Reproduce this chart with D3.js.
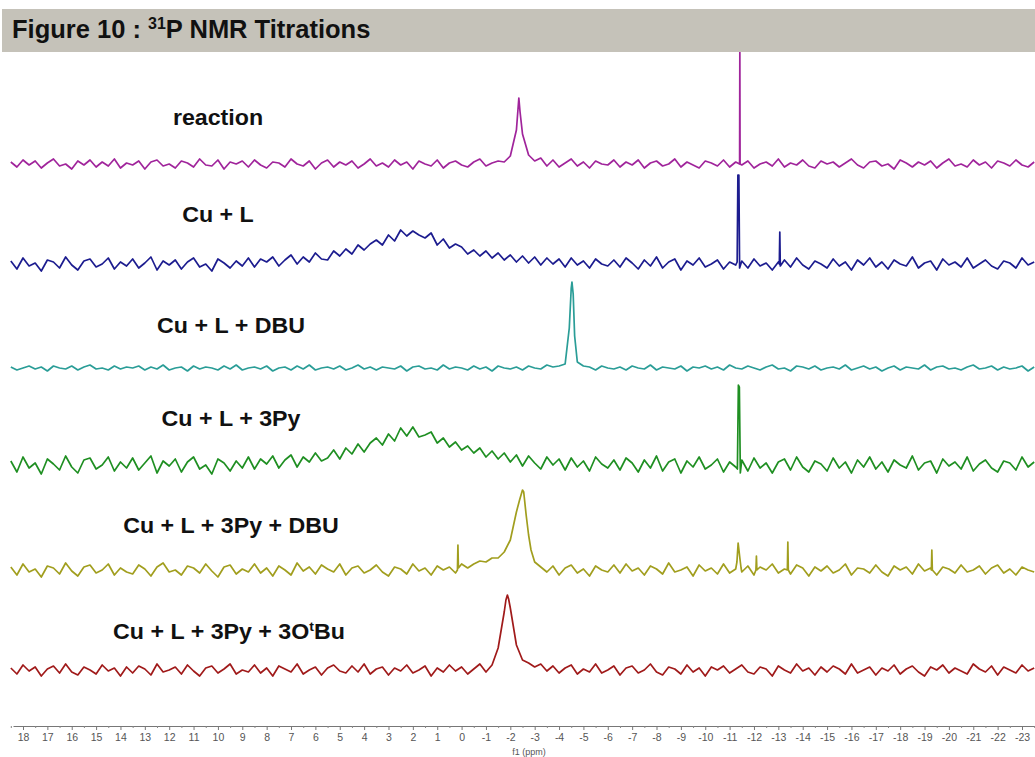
<!DOCTYPE html>
<html>
<head>
<meta charset="utf-8">
<script src="https://cdn.jsdelivr.net/npm/d3@7"></script>
<style>
  body { margin: 0; background: #fff; }
  svg { display: block; }
</style>
</head>
<body>
<div class="chart"></div>
<script>
var svgWidth = 1035;
var svgHeight = 757;

// spectra are sampled every 0.25 ppm starting at 18.5 ppm
var ppmStart = 18.5;
var ppmStep = 0.25;

var seriesNames = ["reaction", "Cu + L", "Cu + L + DBU", "Cu + L + 3Py", "Cu + L + 3Py + DBU", "Cu + L + 3Py + 3O{t}Bu"];

var reactionVals = [
  2,-3,4,-1,3,-4,1,5,-2,0,-5,3,-1,4,-3,2,-2,5,-4,1,
  -1,3,-5,2,4,-2,0,-4,3,1,-3,5,-1,-2,4,-5,2,0,3,-3,
  4,-1,-4,2,1,-3,5,0,-2,3,-5,1,4,-3,2,-1,3,-4,0,5,
  -2,1,-3,4,-1,2,-5,3,0,-2,4,-4,1,3,-1,-3,2,5,-2,1,
  3,2,8,34,30,9,3,6,-2,4,-3,1,5,-2,2,-4,3,0,-1,4,
  -3,2,-1,4,-4,1,3,-2,0,5,-3,2,-1,-4,3,1,-2,4,-3,2,
  -1,3,-4,0,2,-2,5,-3,1,-1,4,-2,-4,3,0,2,-3,1,5,-1,
  -4,2,3,-2,0,-5,4,1,-3,2,-1,3,-4,1,5,-2,0,-3,4,-1,
  2,-4,3,1,-2,4,-1,-3,2
];
var reactionPeaks = [[-2.3, 50], [-2.35, 66], [-2.4, 52], [-11.41, 0], [-11.42, 118], [-11.43, 0]];

var cuLVals = [
  3,-5,6,-2,1,-7,4,2,-4,7,-1,-6,3,5,-3,0,6,-5,2,-2,
  5,-4,1,7,-6,3,-1,4,-5,2,6,-3,0,-7,5,1,-4,3,-2,6,
  -3,5,2,7,-2,4,9,0,7,2,11,5,4,13,8,15,10,19,14,20,
  24,19,29,23,34,28,33,29,26,31,19,25,16,20,17,10,14,8,13,6,
  11,4,9,2,8,1,7,-1,6,0,5,-3,6,-1,3,-4,5,0,-2,4,
  -3,6,1,-5,4,-2,7,-4,2,5,-6,3,-1,6,-3,0,4,-5,2,-1,
  3,-4,5,-2,1,-6,2,4,-3,6,-1,-5,3,0,-4,5,-2,2,-6,4,
  -1,6,-3,2,-5,4,0,-2,7,-4,1,3,-6,5,-1,2,-3,6,-4,0,
  4,-2,-5,3,1,-4,6,-1,2
];
var cuLPeaks = [[-11.31, 2], [-11.34, 89], [-11.38, 89], [-11.41, -4], [-13.04, 0], [-13.06, 32], [-13.08, -2]];

var dbuVals = [
  1,-2,0,2,-1,1,-3,2,0,-1,2,-2,1,3,-1,0,-2,2,-1,1,
  0,2,-2,1,-1,3,-2,0,1,-3,2,-1,1,0,-2,2,-1,3,-2,0,
  1,-1,2,-3,0,1,-2,2,-1,3,-2,0,1,-1,2,-2,0,3,-1,1,
  -2,1,0,-1,2,-3,1,2,-1,0,-2,3,-1,1,0,-2,2,-1,1,-3,
  2,0,-1,1,-2,2,0,-1,3,1,2,4,80,6,2,1,-2,2,0,-1,
  1,-2,2,0,-1,3,-2,1,0,-1,2,-3,1,0,2,-1,1,-2,3,0,
  -1,2,0,-2,1,3,-1,0,-3,2,1,-1,2,-2,0,1,-1,3,-2,0,
  2,-1,1,-3,0,2,-2,1,0,-1,3,-2,1,2,-1,0,-2,1,3,-1,
  0,2,-2,1,-1,0,2,-3,1
];
var dbuPeaks = [[-4.42, 40], [-4.53, 86], [-4.58, 74], [-4.64, 32]];

var pyVals = [
  4,-7,8,-3,2,-9,6,1,-5,9,-2,-8,5,7,-4,0,8,-6,3,-3,
  7,-5,2,9,-8,4,-1,6,-7,3,8,-4,0,-9,6,2,-6,4,-3,8,
  -4,6,1,9,-3,5,10,-2,8,3,12,4,7,15,6,17,11,21,13,22,
  27,20,31,24,37,29,38,28,30,33,22,27,18,23,15,19,12,17,8,14,
  6,12,3,10,-1,9,2,-4,8,0,6,-5,7,-2,4,-6,8,1,-3,5,
  -5,7,2,-7,5,-3,9,-6,3,6,-8,4,-2,8,-4,0,6,-7,3,-2,
  5,-6,7,-3,2,-8,3,6,-5,8,-2,-7,4,1,-6,7,-3,3,-8,5,
  -2,8,-4,3,-7,5,0,-3,9,-5,2,4,-8,6,-1,3,-4,8,-6,1,
  5,-3,-7,4,2,-5,8,-2,3
];
var pyPeaks = [[-11.32, -4], [-11.36, 80], [-11.4, 78], [-11.44, -8]];

var pyDbuVals = [
  3,-5,6,-2,1,-7,4,2,-4,7,-1,-6,3,5,-3,0,6,-5,2,-2,
  -4,5,1,-6,3,7,-2,0,-5,4,2,-3,6,-1,-7,3,5,-4,1,-2,
  6,-3,2,-6,4,0,-5,7,-1,3,-4,5,1,-2,6,-5,2,4,-3,0,
  5,-2,-6,3,1,-4,6,-1,2,-5,4,0,3,-3,6,2,6,9,8,12,
  12,18,30,58,80,35,8,3,-2,4,-5,2,5,-3,1,-6,4,0,-2,5,
  -3,6,-1,2,-5,4,1,-4,7,-2,0,3,-6,5,-1,2,-4,6,-3,1,
  -2,4,-5,3,0,6,-3,1,-4,5,2,-6,3,-1,4,-3,0,6,-5,2,
  1,-3,5,-2,-6,4,0,3,-4,6,-1,2,-5,3,1,-3,5,-2,0,4,
  -4,2,5,-3,1,-5,3,0,-2
];
var pyDbuPeaks = [[0.17, 0], [0.15, 25], [0.13, 2], [-2.38, 70], [-2.55, 78], [-2.65, 55], [-2.85, 20],
  [-11.3, 8], [-11.35, 27], [-11.42, 12], [-11.47, 2], [-12.08, 0], [-12.1, 14], [-12.12, 0],
  [-13.37, 0], [-13.39, 28], [-13.41, 0], [-19.28, 0], [-19.3, 20], [-19.32, 0]];

var otbuVals = [
  2,-4,5,-1,3,-6,1,4,-3,6,-2,-5,3,0,-4,5,-1,2,-6,3,
  -3,4,1,-5,6,-2,0,3,-4,5,-1,-6,2,4,-3,1,6,-4,0,-2,
  5,-3,2,-6,4,1,-2,6,-4,0,3,-5,2,5,-1,-3,4,-2,6,-4,
  1,3,-5,2,-1,5,-3,0,4,-6,2,-2,5,-1,3,-4,1,6,-2,5,
  22,58,62,25,10,7,3,6,-1,4,-3,2,5,-4,1,-2,6,-3,0,4,
  -5,2,4,-3,0,6,-2,-5,3,1,-4,5,-2,2,-6,3,0,4,-3,1,
  5,-2,-4,3,1,-6,4,0,-3,6,-1,2,-5,3,-2,4,1,-4,6,-3,
  0,3,-5,2,-1,5,-4,1,4,-2,-6,3,0,5,-3,2,-1,-4,6,1,
  -2,4,-5,3,0,-3,5,-1,2
];
var otbuPeaks = [[-1.82, 70], [-1.88, 75], [-1.93, 71]];

var seriesVals = [reactionVals, cuLVals, dbuVals, pyVals, pyDbuVals, otbuVals];
var seriesPeaks = [reactionPeaks, cuLPeaks, dbuPeaks, pyPeaks, pyDbuPeaks, otbuPeaks];
var seriesColors = ["#a0249b", "#1c1c8f", "#2a9d97", "#1f8f22", "#a19e1e", "#a01a1a"];

var majorTicks = d3.range(18, -24, -1);
var minorTicks = d3.range(18.5, -23.6, -1);

// layout
var rowBaselines = [164, 264, 368, 465, 570, 670];
var labelPos = [[218, 125], [218, 222], [231, 333], [231, 426], [231, 533], [229, 639]];

var svg = d3.select(".chart")
  .append("svg")
  .attr("width", svgWidth)
  .attr("height", svgHeight);

var x = d3.scaleLinear()
  .domain([18, -23])
  .range([23, 1022]);

var rowY = d3.scaleOrdinal()
  .domain(seriesNames)
  .range(rowBaselines);

var yI = d3.scaleLinear()
  .domain([0, 100])
  .range([0, -100]);

var line = d3.line()
  .x(d => x(d[0]))
  .y(d => yI(d[1]));

function buildTrace(vals, peaks) {
  var pts = vals.map((v, i) => [ppmStart - i * ppmStep, v]).concat(peaks);
  return pts.sort((a, b) => b[0] - a[0]);
}

// spectra
seriesNames.forEach(function(name, k) {
  var g = svg.append("g")
    .attr("transform", `translate(0, ${rowY(name)})`);
  g.append("path")
    .datum(buildTrace(seriesVals[k], seriesPeaks[k]))
    .attr("fill", "none")
    .attr("stroke", seriesColors[k])
    .attr("stroke-width", 1.7)
    .attr("stroke-linejoin", "round")
    .attr("d", line);
});

// labels (text in {} becomes a superscript)
seriesNames.forEach(function(name, k) {
  var t = svg.append("text")
    .attr("transform", `translate(${labelPos[k][0]}, ${labelPos[k][1]}) scale(1.08, 1)`)
    .attr("text-anchor", "middle")
    .style("font", "bold 21.5px 'Liberation Sans', Arial, sans-serif")
    .attr("fill", "#111");
  var shift = 0;
  name.split(/(\{[^}]*\})/).forEach(function(part) {
    if (!part) return;
    if (part[0] === "{") {
      t.append("tspan").attr("dy", -8).style("font-size", "13px").text(part.slice(1, -1));
      shift = 8;
    } else {
      t.append("tspan").attr("dy", shift).text(part);
      shift = 0;
    }
  });
});

// ppm axis
var xAxisScale = x.copy()
  .domain([18.41, -23.53])
  .range([x(18.41), x(-23.53)]);

var axisG = svg.append("g")
  .attr("transform", "translate(0, 726)")
  .call(d3.axisBottom(xAxisScale)
    .tickValues(majorTicks)
    .tickFormat(d => String(d))
    .tickSizeInner(4)
    .tickSizeOuter(0)
    .tickPadding(4));

axisG.select(".domain").attr("stroke", "#777");
axisG.selectAll(".tick line").attr("stroke", "#777");
axisG.selectAll(".tick text")
  .attr("fill", "#555")
  .style("font", "10.5px 'Liberation Sans', Arial, sans-serif");

svg.append("g")
  .attr("transform", "translate(0, 726)")
  .call(d3.axisBottom(xAxisScale)
    .tickValues(minorTicks)
    .tickFormat("")
    .tickSizeInner(2)
    .tickSizeOuter(0))
  .call(g => g.select(".domain").remove())
  .selectAll(".tick line").attr("stroke", "#888");

svg.append("text")
  .attr("x", 529)
  .attr("y", 755)
  .attr("text-anchor", "middle")
  .style("font", "9px 'Liberation Sans', Arial, sans-serif")
  .attr("fill", "#555")
  .text("f1 (ppm)");

// title bar
svg.append("rect")
  .attr("x", 2)
  .attr("y", 9)
  .attr("width", svgWidth - 2)
  .attr("height", 43)
  .attr("fill", "#c5c2b9");

var title = svg.append("text")
  .attr("x", 12)
  .attr("y", 38)
  .style("font", "bold 25.5px 'Liberation Sans', Arial, sans-serif")
  .attr("fill", "#111");
title.append("tspan").text("Figure 10 : ");
title.append("tspan").attr("dy", -9).style("font-size", "16px").text("31");
title.append("tspan").attr("dy", 9).text("P NMR Titrations");
</script>
</body>
</html>
